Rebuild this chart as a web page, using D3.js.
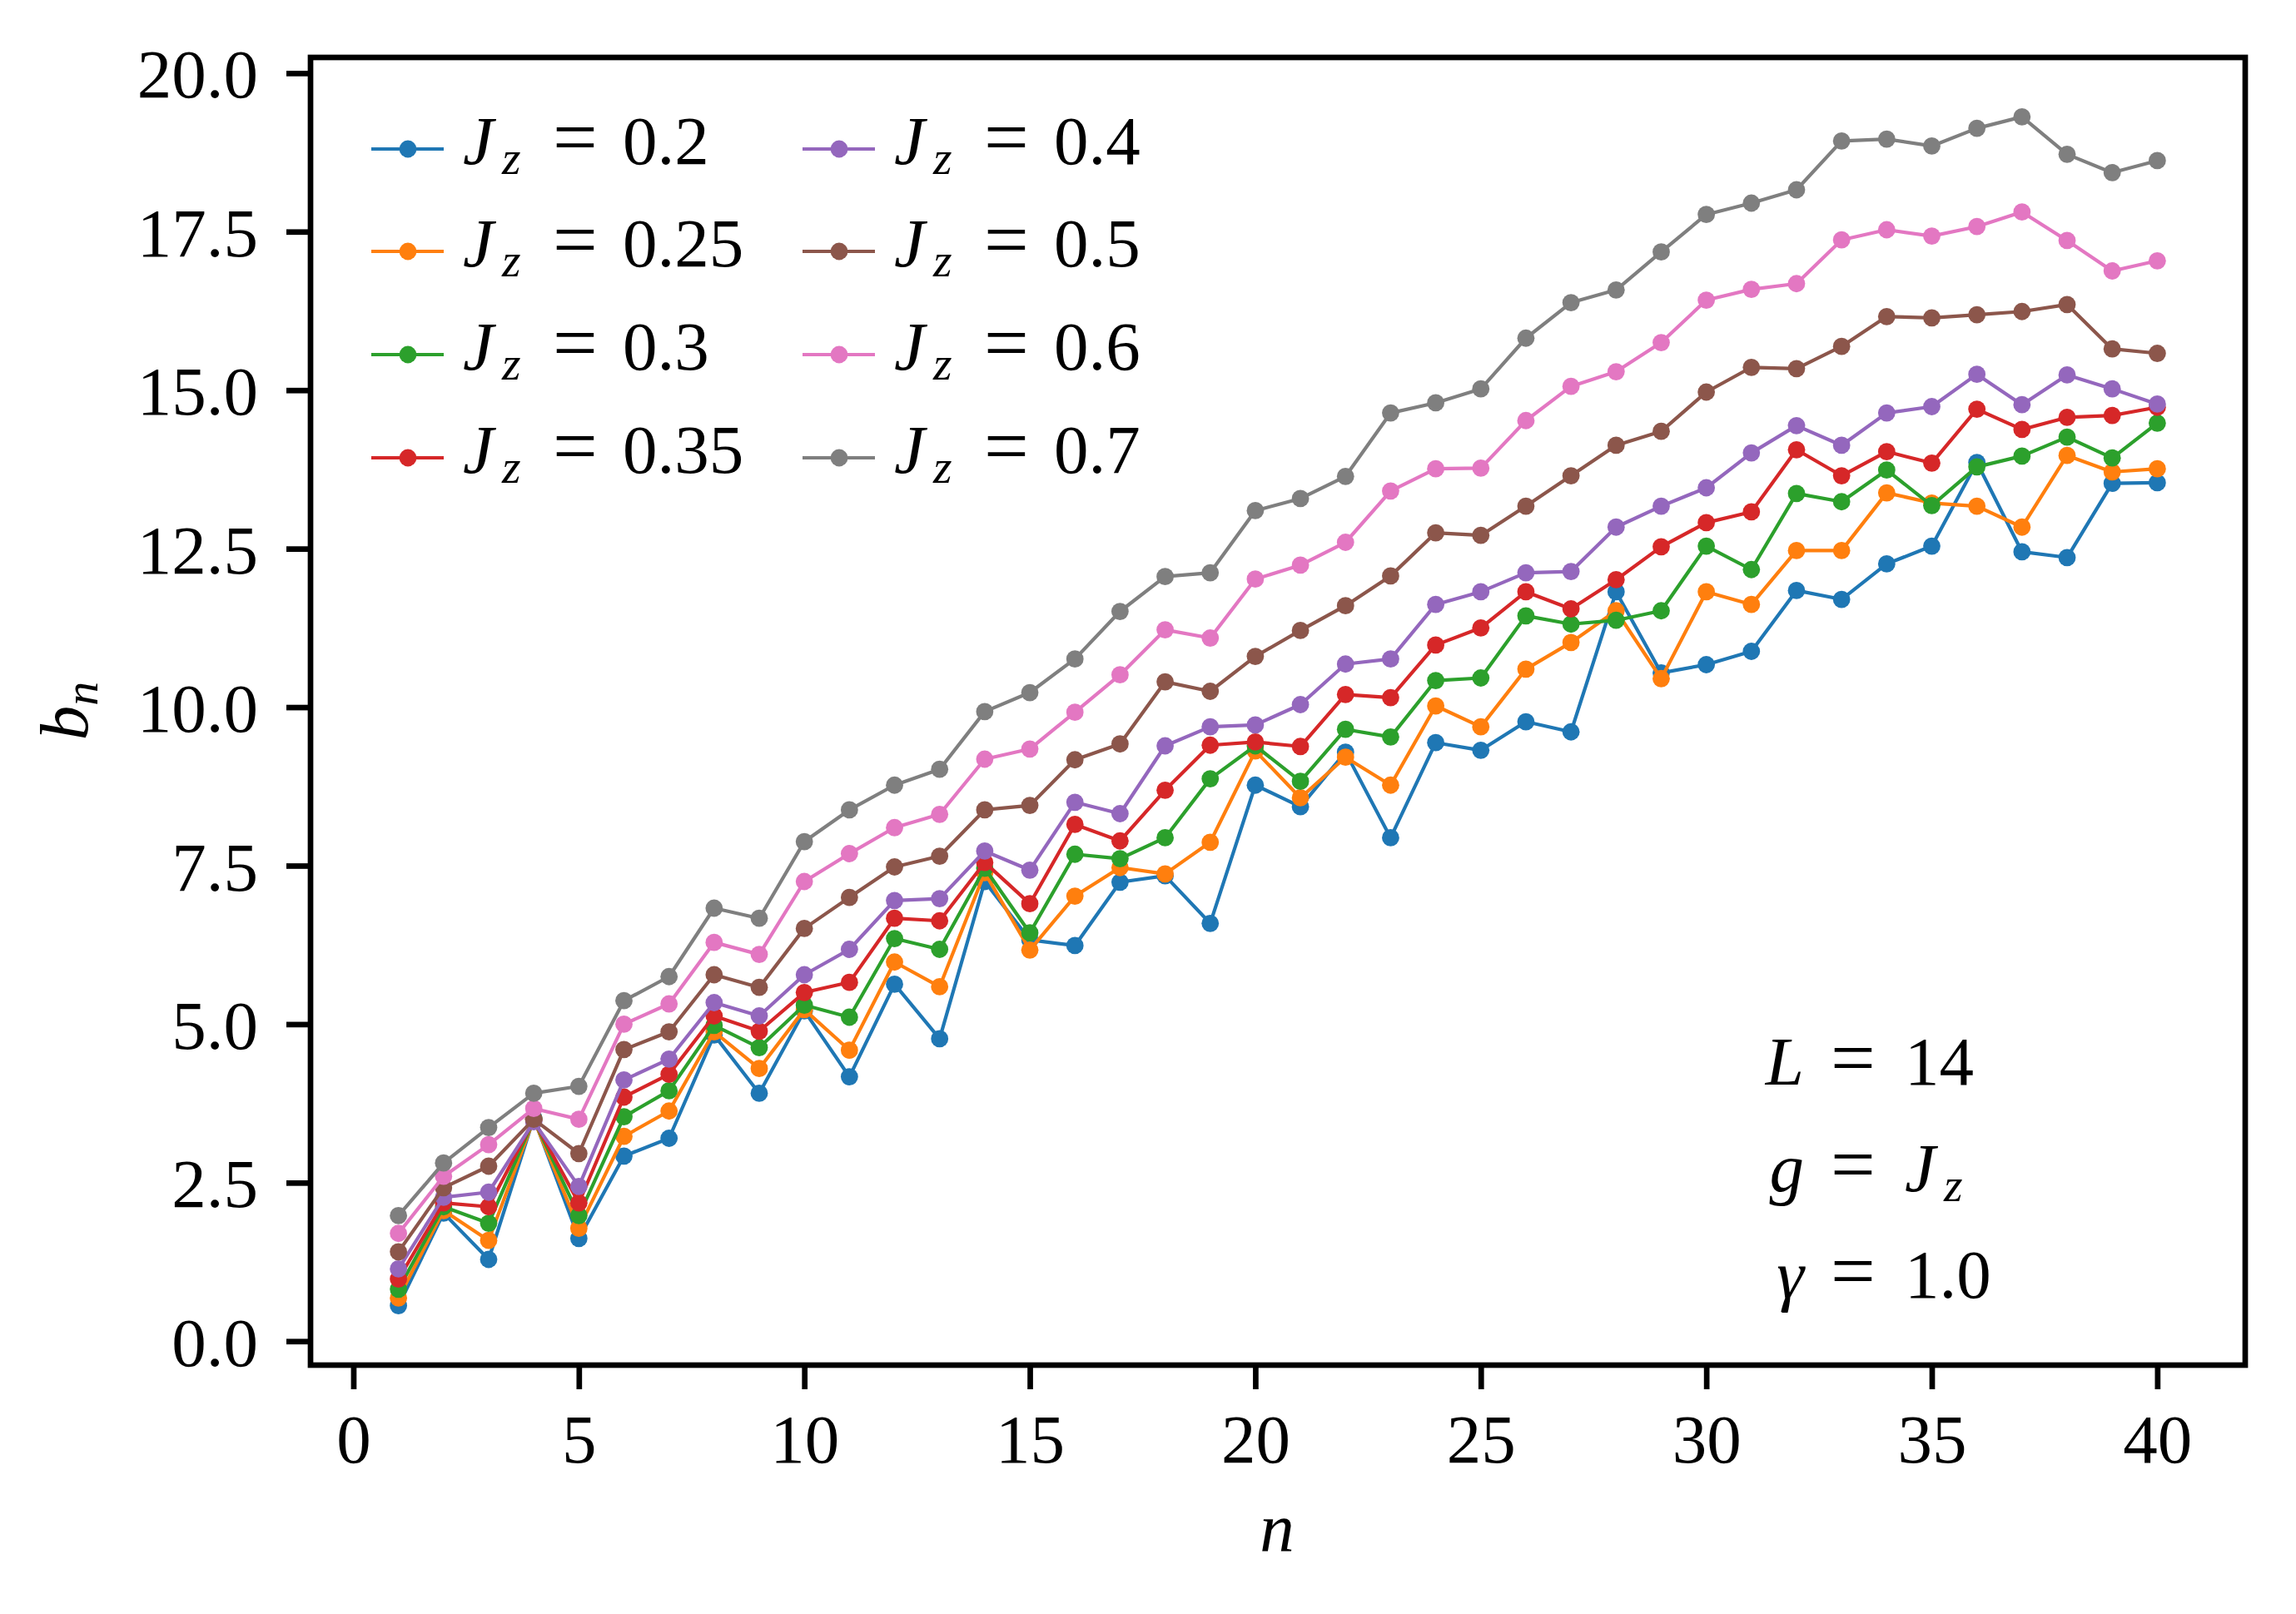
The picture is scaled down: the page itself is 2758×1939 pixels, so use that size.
<!DOCTYPE html>
<html>
<head>
<meta charset="utf-8">
<script src="https://cdn.jsdelivr.net/npm/d3@7"></script>
<style>
body { margin: 0; background: #fff; }
text { font-family: "Liberation Serif", "DejaVu Serif", serif; fill: #000; }
</style>
</head>
<body>
<script>
var W = 2758, H = 1939;

// n = 1..40
var steps = d3.range(1, 41);
var jzLabels = ["0.2", "0.25", "0.3", "0.35", "0.4", "0.5", "0.6", "0.7"];
var colors = ["#1f77b4", "#ff7f0e", "#2ca02c", "#d62728", "#9467bd", "#8c564b", "#e377c2", "#7f7f7f"];

var bJz02 = [0.56, 2.02, 1.29, 3.52, 1.62, 2.92, 3.20, 4.83, 3.91, 5.21, 4.17, 5.63, 4.77, 7.25, 6.33, 6.24, 7.24, 7.34, 6.59, 8.77,
             8.43, 9.29, 7.94, 9.44, 9.32, 9.77, 9.61, 11.82, 10.54, 10.67, 10.88, 11.84, 11.70, 12.26, 12.54, 13.86, 12.45, 12.36, 13.53, 13.54];
var bJz025 = [0.68, 2.06, 1.59, 3.50, 1.78, 3.23, 3.63, 4.88, 4.30, 5.23, 4.59, 5.98, 5.59, 7.39, 6.17, 7.02, 7.47, 7.37, 7.87, 9.31,
              8.57, 9.21, 8.77, 10.02, 9.69, 10.60, 11.02, 11.52, 10.45, 11.82, 11.62, 12.47, 12.47, 13.38, 13.22, 13.17, 12.84, 13.97, 13.71, 13.76];
var bJz03 = [0.82, 2.12, 1.86, 3.50, 1.98, 3.54, 3.95, 4.98, 4.63, 5.30, 5.11, 6.35, 6.18, 7.46, 6.44, 7.68, 7.61, 7.94, 8.87, 9.39,
             8.83, 9.65, 9.53, 10.42, 10.46, 11.44, 11.31, 11.37, 11.52, 12.54, 12.17, 13.37, 13.24, 13.74, 13.18, 13.79, 13.96, 14.26, 13.93, 14.48];
var bJz035 = [0.98, 2.18, 2.12, 3.49, 2.18, 3.85, 4.21, 5.13, 4.89, 5.50, 5.66, 6.67, 6.63, 7.55, 6.90, 8.15, 7.89, 8.69, 9.40, 9.45,
              9.38, 10.20, 10.15, 10.98, 11.25, 11.82, 11.55, 12.01, 12.53, 12.91, 13.08, 14.06, 13.65, 14.03, 13.85, 14.70, 14.38, 14.57, 14.60, 14.73];
var bJz04 = [1.14, 2.27, 2.35, 3.46, 2.44, 4.12, 4.45, 5.34, 5.13, 5.78, 6.18, 6.95, 6.98, 7.73, 7.43, 8.50, 8.32, 9.39, 9.69, 9.72,
             10.04, 10.68, 10.76, 11.62, 11.82, 12.12, 12.14, 12.84, 13.17, 13.46, 14.01, 14.44, 14.13, 14.64, 14.74, 15.25, 14.77, 15.24, 15.02, 14.78];
var bJz05 = [1.41, 2.42, 2.76, 3.50, 2.96, 4.60, 4.88, 5.78, 5.58, 6.51, 7.00, 7.48, 7.65, 8.38, 8.45, 9.17, 9.42, 10.40, 10.25, 10.80,
             11.21, 11.60, 12.07, 12.75, 12.71, 13.17, 13.65, 14.13, 14.35, 14.97, 15.36, 15.34, 15.69, 16.16, 16.14, 16.19, 16.24, 16.35, 15.65, 15.58];
var bJz06 = [1.70, 2.60, 3.10, 3.67, 3.50, 5.00, 5.32, 6.29, 6.10, 7.25, 7.69, 8.10, 8.31, 9.18, 9.34, 9.92, 10.51, 11.22, 11.09, 12.02,
             12.24, 12.60, 13.41, 13.76, 13.77, 14.52, 15.06, 15.29, 15.75, 16.42, 16.59, 16.68, 17.37, 17.53, 17.43, 17.58, 17.81, 17.36, 16.88, 17.04];
var bJz07 = [1.98, 2.81, 3.37, 3.91, 4.02, 5.37, 5.75, 6.83, 6.67, 7.88, 8.38, 8.77, 9.02, 9.93, 10.23, 10.76, 11.51, 12.06, 12.12, 13.10,
             13.29, 13.64, 14.64, 14.80, 15.02, 15.82, 16.38, 16.58, 17.18, 17.77, 17.95, 18.16, 18.93, 18.96, 18.85, 19.13, 19.31, 18.72, 18.43, 18.62];

var xTicks = [0, 5, 10, 15, 20, 25, 30, 35, 40];
var yTicks = [0, 2.5, 5, 7.5, 10, 12.5, 15, 17.5, 20];
var paramNames = ["L", "g", "\u03b3"];
var paramValues = ["14", "J", "1.0"];

var allSeries = [bJz02, bJz025, bJz03, bJz035, bJz04, bJz05, bJz06, bJz07];

// plot box (matplotlib axes)
var pL = 373, pR = 2697, pT = 69, pB = 1640;
var fs = 83;

var svg = d3.select("body").append("svg")
    .attr("width", W)
    .attr("height", H)
    .style("background", "#fff");

// 5% margins like matplotlib
function padded(ext) {
    var m = (ext[1] - ext[0]) * 0.05;
    return [ext[0] - m, ext[1] + m];
}
var xDom = padded(d3.extent(steps));
var yDom = padded([d3.min(allSeries, function(s){ return d3.min(s); }),
                   d3.max(allSeries, function(s){ return d3.max(s); })]);

var x = d3.scaleLinear().domain(xDom).range([pL, pR]);
var y = d3.scaleLinear().domain(yDom).range([pB, pT]);

// series: first one drawn underneath
var line = d3.line()
    .x(function(d){ return x(d.n); })
    .y(function(d){ return y(d.v); });

var sg = svg.selectAll("g.series")
    .data(allSeries)
    .enter()
    .append("g")
    .attr("class", "series");

sg.append("path")
    .attr("d", function(s){
        return line(s.map(function(v, i){ return {n: steps[i], v: v}; }));
    })
    .attr("fill", "none")
    .attr("stroke", function(s, i){ return colors[i]; })
    .attr("stroke-width", 4.2)
    .attr("stroke-linejoin", "round");

sg.each(function(s, i) {
    d3.select(this).selectAll("circle")
        .data(s)
        .enter()
        .append("circle")
        .attr("cx", function(v, j){ return x(steps[j]); })
        .attr("cy", function(v){ return y(v); })
        .attr("r", 10.4)
        .attr("fill", colors[i]);
});

// axes
var xAxis = svg.append("g")
    .attr("transform", "translate(0," + pB + ")")
    .call(d3.axisBottom(x).tickValues(xTicks).tickFormat(d3.format("d"))
        .tickSize(29).tickSizeOuter(0).tickPadding(29));
var yAxis = svg.append("g")
    .attr("transform", "translate(" + pL + ",0)")
    .call(d3.axisLeft(y).tickValues(yTicks).tickFormat(d3.format(".1f"))
        .tickSize(29).tickSizeOuter(0).tickPadding(34));

[xAxis, yAxis].forEach(function(ax) {
    ax.select(".domain").remove();
    ax.selectAll(".tick line").attr("stroke", "#000").attr("stroke-width", 6.7);
    ax.selectAll(".tick text")
        .attr("font-family", "Liberation Serif, DejaVu Serif, serif")
        .attr("font-size", fs)
        .attr("fill", "#000");
});
yAxis.selectAll(".tick text").attr("dy", "0.35em");

// frame
svg.append("rect")
    .attr("x", pL).attr("y", pT)
    .attr("width", pR - pL).attr("height", pB - pT)
    .attr("fill", "none")
    .attr("stroke", "#000")
    .attr("stroke-width", 6.7);

// axis labels
svg.append("text")
    .attr("x", 1534).attr("y", 1863)
    .attr("text-anchor", "middle")
    .attr("font-size", fs)
    .attr("font-style", "italic")
    .text("n");

var yl = svg.append("text")
    .attr("transform", "translate(105,854) rotate(-90)")
    .attr("text-anchor", "middle")
    .attr("font-size", fs);
yl.append("tspan").attr("font-style", "italic").text("b");
yl.append("tspan").attr("font-style", "italic").attr("font-size", 58).attr("dy", 12).text("n");

// J with subscript z
function jz(g, x0, base) {
    g.append("text").attr("x", x0).attr("y", base)
        .attr("font-size", fs).attr("font-style", "italic")
        .text("J");
    g.append("text").attr("x", x0 + 47).attr("y", base + 12)
        .attr("font-size", 58).attr("font-style", "italic")
        .text("z");
}

// legend (2 columns x 4 rows)
var legRows = [179, 302, 426, 550];
var legCols = [446, 964];
var leg = svg.append("g");
jzLabels.forEach(function(lab, i) {
    var cx = legCols[Math.floor(i / 4)], cy = legRows[i % 4];
    leg.append("line")
        .attr("x1", cx).attr("x2", cx + 87)
        .attr("y1", cy).attr("y2", cy)
        .attr("stroke", colors[i]).attr("stroke-width", 4.2);
    leg.append("circle")
        .attr("cx", cx + 44).attr("cy", cy).attr("r", 10.4)
        .attr("fill", colors[i]);
    var tx = cx + 110, base = cy + 18;
    jz(leg, tx, base);
    leg.append("text").attr("x", tx + 135).attr("y", base)
        .attr("font-size", fs * 1.15).attr("text-anchor", "middle").text("=");
    leg.append("text").attr("x", tx + 192).attr("y", base)
        .attr("font-size", fs).text(lab);
});

// parameter box, bottom right
var ann = svg.append("g");
var annBase = [1303, 1431, 1559];
paramNames.forEach(function(p, i) {
    var base = annBase[i];
    ann.append("text").attr("x", 2167).attr("y", base)
        .attr("font-size", fs).attr("font-style", "italic")
        .attr("text-anchor", "end").text(p);
    ann.append("text").attr("x", 2226).attr("y", base)
        .attr("font-size", fs * 1.15).attr("text-anchor", "middle").text("=");
    if (paramValues[i] === "J") {
        jz(ann, 2288, base);
    } else {
        ann.append("text").attr("x", 2288).attr("y", base)
            .attr("font-size", fs).text(paramValues[i]);
    }
});
</script>
</body>
</html>
